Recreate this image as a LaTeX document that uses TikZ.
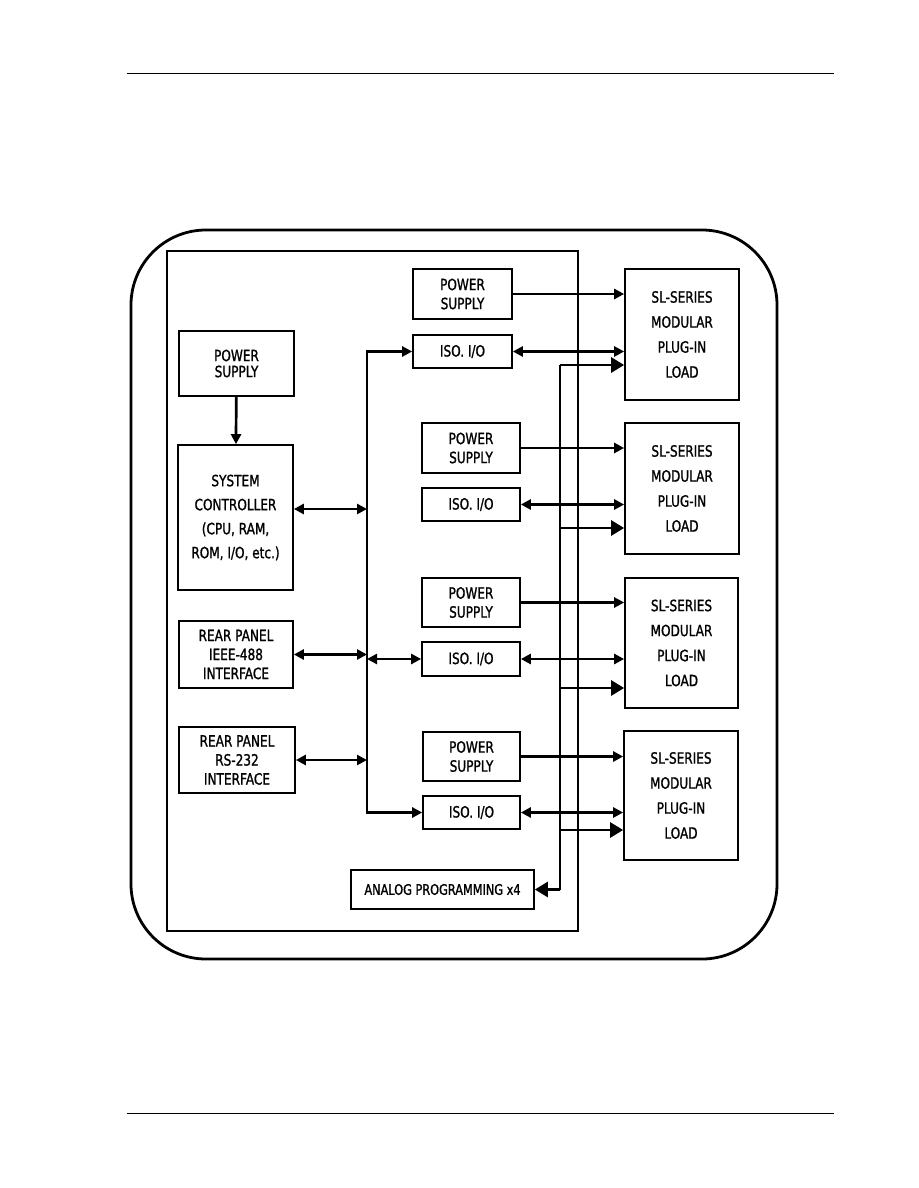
\documentclass[tikz,border=0pt]{standalone}
\usepackage{fontspec}
\newfontfamily\blkfont[FakeStretch=0.78,FakeBold=1.2]{DejaVu Sans}
\usetikzlibrary{arrows.meta}
\begin{document}
\begin{tikzpicture}[x=1pt,y=-1pt,
  blk/.style={draw, line width=1.7pt, inner sep=0pt, align=center},
  psbox/.style={blk, minimum width=98pt, minimum height=50pt, font=\blkfont\fontsize{15.5}{19}\selectfont},
  isobox/.style={blk, minimum width=98pt, minimum height=33pt, font=\blkfont\fontsize{15.5}{17}\selectfont},
  loadbox/.style={blk, minimum width=114pt, minimum height=130pt, font=\blkfont\fontsize{15.5}{25}\selectfont},
  leftbox/.style={blk, minimum width=115pt, font=\blkfont\fontsize{15.5}{19}\selectfont},
  arr/.style={line width=2.7pt, -{Triangle[length=10pt,width=10pt]}},
  darr/.style={line width=2.7pt, {Triangle[length=10pt,width=10pt]}-{Triangle[length=10pt,width=10pt]}},
  bigarr/.style={line width=2.7pt, -{Triangle[length=13pt,width=15pt]}},
  rule/.style={line width=1pt}
]
\useasboundingbox (0,0) rectangle (918,1188);
% page rules
\coordinate (hl) at (127,74); \coordinate (hr) at (834,74);
\coordinate (fl) at (127,1113); \coordinate (fr) at (834,1113);
\draw[rule] (hl) -- (hr);
\draw[rule] (fl) -- (fr);
% frames
\draw[line width=2.8pt, rounded corners=75pt] (131,230) rectangle (777,959);
\draw[line width=1.8pt] (167,251) rectangle (578,931);
% left column
\node[leftbox, minimum height=65pt, font=\blkfont\fontsize{15.5}{16}\selectfont] (lps) at (236.5,363.5) {POWER\\SUPPLY};
\node[leftbox, minimum height=145pt, font=\blkfont\fontsize{15.5}{24}\selectfont] (sc) at (235.5,517.5) {SYSTEM\\CONTROLLER\\(CPU, RAM,\\ROM, I/O, etc.)};
\node[leftbox, minimum width=114pt, minimum height=67pt] (ieee) at (236,654.5) {REAR PANEL\\IEEE-488\\INTERFACE};
\node[leftbox, minimum width=116pt, minimum height=66pt] (rs) at (237,760) {REAR PANEL\\RS-232\\INTERFACE};
% middle column
\node[psbox, minimum width=99pt] (ps1) at (462.5,294) {POWER\\SUPPLY};
\node[isobox, minimum width=99pt] (iso1) at (462.5,351.5) {ISO. I/O};
\node[psbox] (ps2) at (471,448) {POWER\\SUPPLY};
\node[isobox] (iso2) at (471,504.5) {ISO. I/O};
\node[psbox, minimum height=49pt] (ps3) at (471,602.5) {POWER\\SUPPLY};
\node[isobox, minimum height=34pt] (iso3) at (471,659) {ISO. I/O};
\node[psbox, minimum width=97pt, minimum height=49pt] (ps4) at (471.5,756.5) {POWER\\SUPPLY};
\node[isobox, minimum width=97pt] (iso4) at (471.5,812.5) {ISO. I/O};
\node[blk, minimum width=183pt, minimum height=39pt, font=\blkfont\fontsize{14.5}{17}\selectfont] (ana) at (442.5,889.5) {ANALOG PROGRAMMING x4};
% loads
\node[loadbox, minimum height=131pt] (ld1) at (682,334.5) {SL-SERIES\\MODULAR\\PLUG-IN\\LOAD};
\node[loadbox, minimum height=131pt] (ld2) at (682,488.5) {SL-SERIES\\MODULAR\\PLUG-IN\\LOAD};
\node[loadbox, minimum width=113pt] (ld3) at (681.5,643) {SL-SERIES\\MODULAR\\PLUG-IN\\LOAD};
\node[loadbox, minimum height=129pt] (ld4) at (681,795.5) {SL-SERIES\\MODULAR\\PLUG-IN\\LOAD};
% bus coordinates
\coordinate (bt) at (367,351.5);
\coordinate (bb) at (367,812.5);
\coordinate (scb) at (367,509);
% power supply to controller
\draw[arr] (lps) -- (sc);
% main bus
\draw[darr] (iso1.west) -- (bt) -- (bb) -- (iso4.west);
\draw[darr] (sc.east |- scb) -- (scb);
\draw[darr] (ieee.east) -- (ieee.east -| bt);
\draw[darr] (rs.east) -- (rs.east -| bt);
\draw[darr] (iso3.west) -- (iso3.west -| bt);
% power supplies to loads
\draw[arr] (ps1.east) -- (ps1.east -| ld1.west);
\draw[arr] (ps2.east) -- (ps2.east -| ld2.west);
\draw[arr] (ps3.east) -- (ps3.east -| ld3.west);
\draw[arr] (ps4.east) -- (ps4.east -| ld4.west);
% iso to loads
\draw[darr] (iso1.east) -- (iso1.east -| ld1.west);
\draw[darr] (iso2.east) -- (iso2.east -| ld2.west);
\draw[darr] (iso3.east) -- (iso3.east -| ld3.west);
\draw[darr] (iso4.east) -- (iso4.east -| ld4.west);
% analog programming distribution
\coordinate (av1) at (560,365);
\coordinate (av2) at (560,528);
\coordinate (av3) at (560,688);
\coordinate (av4) at (560,830);
\coordinate (avb) at (560,889.5);
\draw[line width=2.7pt] (av1) -- (avb);
\draw[bigarr] (avb) -- (ana.east);
\draw[bigarr] (av1) -- (av1 -| ld1.west);
\draw[bigarr] (av2) -- (av2 -| ld2.west);
\draw[bigarr] (av3) -- (av3 -| ld3.west);
\draw[bigarr] (av4) -- (av4 -| ld4.west);
\end{tikzpicture}
\end{document}
